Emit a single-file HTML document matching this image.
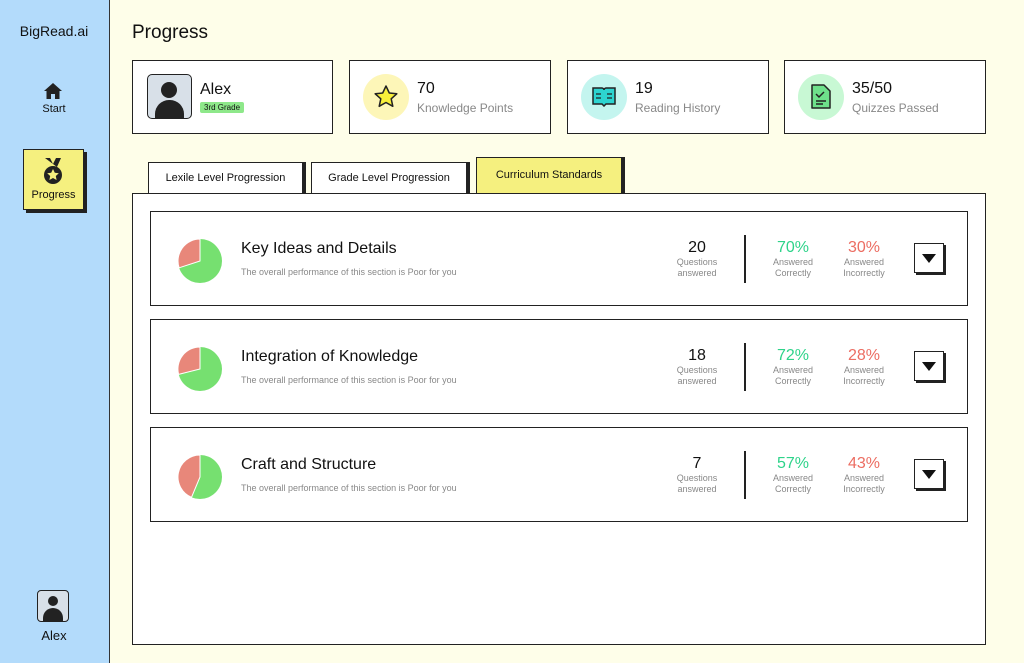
<!DOCTYPE html>
<html><head><meta charset="utf-8"><style>
*{margin:0;padding:0;box-sizing:border-box}
body{width:1024px;height:663px;position:relative;overflow:hidden;background:#fefee9;font-family:"Liberation Sans",sans-serif;color:#111}
.a{position:absolute}
.side{left:0;top:0;width:110px;height:663px;background:#b3dbfb;border-right:1.5px solid #333}
.card{background:#fff;border:1.5px solid #222;height:74px;top:60px}
.ic{width:46px;height:46px;border-radius:50%;top:13px;left:13px}
.num{left:67px;top:19px;font-size:16px}
.lab{left:67px;top:40px;font-size:12px;color:#888}
.tab{background:#fff;border:1.5px solid #222;box-shadow:3px 0 0 #222;font-size:11px;text-align:center}
.row{left:150px;width:818px;height:95px;background:#fff;border:1.5px solid #222}
.t{left:90px;top:28px;font-size:16px}
.s{left:90px;top:55px;font-size:9px;color:#888}
.c{text-align:center;width:70px}
.big{font-size:16px}
.sm{font-size:9px;color:#888;line-height:11px}
.btn{width:30px;height:30px;border:1.5px solid #222;box-shadow:2px 2px 0 #222;background:#fff;left:763px;top:31px}
</style></head><body>
<div class="a side">
<div class="a" style="left:0;width:108px;top:23px;text-align:center;font-size:14px">BigRead.ai</div>
<svg class="a" style="left:44px;top:83px" width="18" height="16" viewBox="0 0 18 16"><path d="M9 0L0 8h2.5v8h4.5v-5h4v5h4.5V8H18z" fill="#222"/></svg>
<div class="a" style="left:0;width:108px;top:103px;text-align:center;font-size:11px">Start</div>
<div class="a" style="left:23px;top:149px;width:61px;height:61px;background:#f5f07f;border:1.5px solid #222;box-shadow:3px 3px 0 #222"></div>
<svg class="a" style="left:42px;top:158px" width="22" height="28" viewBox="0 0 22 28"><path d="M3 0h5l3 6 3-6h5l-4 9z" fill="#222"/><circle cx="11" cy="17" r="9" fill="#222"/><path d="M11 11l1.8 3.7 4 .5-3 2.8.8 4-3.6-2-3.6 2 .8-4-3-2.8 4-.5z" fill="#f5f07f"/></svg>
<div class="a" style="left:23px;width:61px;top:189px;text-align:center;font-size:11px">Progress</div>
<div class="a" style="left:37px;top:590px;width:32px;height:32px;border:1.5px solid #222;border-radius:4px;background:#d8e0e8;overflow:hidden"><div class="a" style="left:10px;top:5px;width:10px;height:10px;border-radius:50%;background:#222"></div><div class="a" style="left:5px;top:17px;width:20px;height:14px;border-radius:10px 10px 0 0;background:#222"></div></div>
<div class="a" style="left:0;width:108px;top:628px;text-align:center;font-size:13px">Alex</div>
</div>
<div class="a" style="left:132px;top:22px;font-size:19px">Progress</div>

<div class="a card" style="left:132px;width:201px">
<div class="a" style="left:14px;top:13px;width:45px;height:45px;border:1.5px solid #222;border-radius:5px;background:#d8e0e8;overflow:hidden"><div class="a" style="left:13px;top:7px;width:16px;height:16px;border-radius:50%;background:#222"></div><div class="a" style="left:7px;top:25px;width:29px;height:20px;border-radius:14px 14px 0 0;background:#222"></div></div>
<div class="a" style="left:67px;top:20px;font-size:16px">Alex</div>
<div class="a" style="left:67px;top:41px;font-size:8px;background:#8ee88a;padding:1px 4px;border-radius:2px">3rd Grade</div>
</div>
<div class="a card" style="left:349px;width:202px"><div class="a ic" style="background:#fdf6b8"></div><svg class="a" style="left:24px;top:24px" width="24" height="23" viewBox="0 0 24 23"><path d="M12 1l3.3 7 7.5.8-5.6 5 1.6 7.5L12 17.5 5.2 21.3l1.6-7.5-5.6-5 7.5-.8z" fill="#f8ef3a" stroke="#222" stroke-width="1.5" stroke-linejoin="round"/></svg><div class="a num">70</div><div class="a lab">Knowledge Points</div></div>
<div class="a card" style="left:567px;width:202px"><div class="a ic" style="background:#c4f5ef"></div><svg class="a" style="left:24px;top:26px" width="24" height="20" viewBox="0 0 24 20"><path d="M1 1h9c1 0 2 1 2 2 0-1 1-2 2-2h9v16h-9l-2 2-2-2H1z" fill="#2dd4d0" stroke="#222" stroke-width="1.5"/><path d="M4 7h5M4 11h5M15 7h5M15 11h5" stroke="#222" stroke-width="1.2"/></svg><div class="a num">19</div><div class="a lab">Reading History</div></div>
<div class="a card" style="left:784px;width:202px"><div class="a ic" style="background:#c8f8d4"></div><svg class="a" style="left:26px;top:23px" width="20" height="25" viewBox="0 0 20 25"><path d="M1 1h12l6 6v17H1z" fill="#6ee08a" stroke="#222" stroke-width="1.5" stroke-linejoin="round"/><path d="M5 10l3 3 5-5M5 17h10M5 20h7" stroke="#222" stroke-width="1.5" fill="none"/></svg><div class="a num">35/50</div><div class="a lab">Quizzes Passed</div></div>

<div class="a tab" style="left:148px;top:162px;width:155px;height:32px;line-height:30px">Lexile Level Progression</div>
<div class="a tab" style="left:311px;top:162px;width:156px;height:32px;line-height:30px">Grade Level Progression</div>
<div class="a tab" style="left:476px;top:157px;width:146px;height:37px;line-height:34px;background:#f5f07f">Curriculum Standards</div>
<div class="a" style="left:132px;top:193px;width:854px;height:452px;background:#fff;border:1.5px solid #222"></div>

<div class="a row" style="top:211px">
<svg class="a" style="left:27px;top:27px" width="44" height="44" viewBox="-22 -22 44 44"><circle r="22" fill="#76e070"/><path d="M0 0L0 -22A22 22 0 0 0 -20.9 6.8Z" fill="#e8877a" stroke="#fff" stroke-width="1"/></svg>
<div class="a t">Key Ideas and Details</div><div class="a s">The overall performance of this section is Poor for you</div>
<div class="a c" style="left:511px;top:27px"><div class="big">20</div><div class="sm">Questions<br>answered</div></div>
<div class="a" style="left:593px;top:23px;width:1.5px;height:48px;background:#222"></div>
<div class="a c" style="left:607px;top:27px"><div class="big" style="color:#2ed38a">70%</div><div class="sm">Answered<br>Correctly</div></div>
<div class="a c" style="left:678px;top:27px"><div class="big" style="color:#ec6d62">30%</div><div class="sm">Answered<br>Incorrectly</div></div>
<div class="a btn"><svg class="a" style="left:7px;top:10px" width="14" height="9"><path d="M0 0h14L7 9z" fill="#111"/></svg></div>
</div>
<div class="a row" style="top:319px">
<svg class="a" style="left:27px;top:27px" width="44" height="44" viewBox="-22 -22 44 44"><circle r="22" fill="#76e070"/><path d="M0 0L0 -22A22 22 0 0 0 -21.4 5.4Z" fill="#e8877a" stroke="#fff" stroke-width="1"/></svg>
<div class="a t">Integration of Knowledge</div><div class="a s">The overall performance of this section is Poor for you</div>
<div class="a c" style="left:511px;top:27px"><div class="big">18</div><div class="sm">Questions<br>answered</div></div>
<div class="a" style="left:593px;top:23px;width:1.5px;height:48px;background:#222"></div>
<div class="a c" style="left:607px;top:27px"><div class="big" style="color:#2ed38a">72%</div><div class="sm">Answered<br>Correctly</div></div>
<div class="a c" style="left:678px;top:27px"><div class="big" style="color:#ec6d62">28%</div><div class="sm">Answered<br>Incorrectly</div></div>
<div class="a btn"><svg class="a" style="left:7px;top:10px" width="14" height="9"><path d="M0 0h14L7 9z" fill="#111"/></svg></div>
</div>
<div class="a row" style="top:427px">
<svg class="a" style="left:27px;top:27px" width="44" height="44" viewBox="-22 -22 44 44"><circle r="22" fill="#76e070"/><path d="M0 0L0 -22A22 22 0 0 0 -8.5 20.3Z" fill="#e8877a" stroke="#fff" stroke-width="1"/></svg>
<div class="a t">Craft and Structure</div><div class="a s">The overall performance of this section is Poor for you</div>
<div class="a c" style="left:511px;top:27px"><div class="big">7</div><div class="sm">Questions<br>answered</div></div>
<div class="a" style="left:593px;top:23px;width:1.5px;height:48px;background:#222"></div>
<div class="a c" style="left:607px;top:27px"><div class="big" style="color:#2ed38a">57%</div><div class="sm">Answered<br>Correctly</div></div>
<div class="a c" style="left:678px;top:27px"><div class="big" style="color:#ec6d62">43%</div><div class="sm">Answered<br>Incorrectly</div></div>
<div class="a btn"><svg class="a" style="left:7px;top:10px" width="14" height="9"><path d="M0 0h14L7 9z" fill="#111"/></svg></div>
</div>
</body></html>
